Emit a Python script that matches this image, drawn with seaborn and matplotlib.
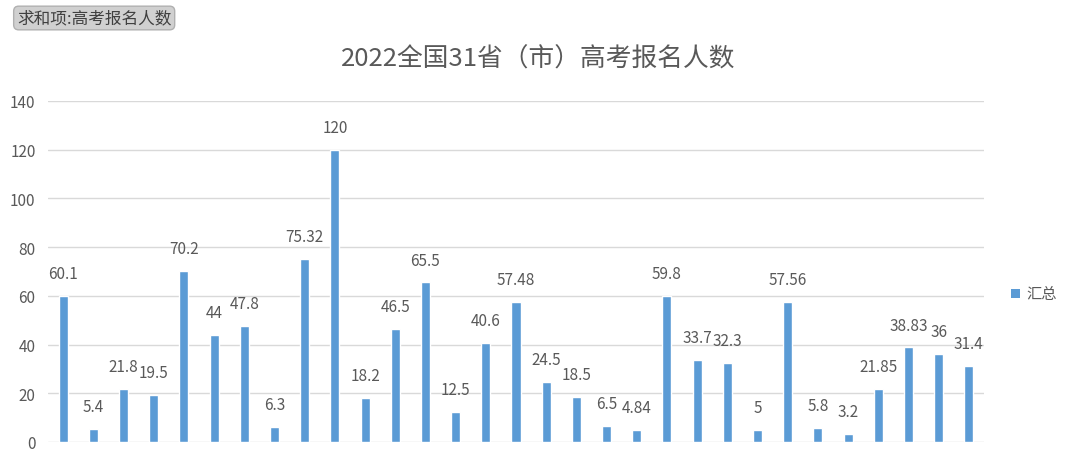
import matplotlib
matplotlib.use("Agg")
import matplotlib.pyplot as plt
import seaborn as sns
import pandas as pd

categories = [str(i) for i in range(1, 32)]
values = [60.1, 5.4, 21.8, 19.5, 70.2, 44, 47.8, 6.3, 75.32, 120, 18.2, 46.5, 65.5,
          12.5, 40.6, 57.48, 24.5, 18.5, 6.5, 4.84, 59.8, 33.7, 32.3, 5, 57.56,
          5.8, 3.2, 21.85, 38.83, 36, 31.4]
labels = ["60.1", "5.4", "21.8", "19.5", "70.2", "44", "47.8", "6.3", "75.32", "120",
          "18.2", "46.5", "65.5", "12.5", "40.6", "57.48", "24.5", "18.5", "6.5",
          "4.84", "59.8", "33.7", "32.3", "5", "57.56", "5.8", "3.2", "21.85",
          "38.83", "36", "31.4"]
yticks = [0, 20, 40, 60, 80, 100, 120, 140]
title = "2022全国31省（市）高考报名人数"
field_button = "求和项:高考报名人数"
legend_label = "汇总"

sns.set_theme(style="white")
plt.rcParams['font.family'] = ['Noto Sans CJK SC', 'DejaVu Sans']

W, H = 1073, 456
fig = plt.figure(figsize=(W / 100, H / 100), dpi=100)
ax = fig.add_axes([48 / W, 13 / H, (984 - 48) / W, (443 - 102) / H])

df = pd.DataFrame({"cat": categories, "val": values})
bar_color = "#5B9BD5"
text_color = "#595959"
sns.barplot(data=df, x="cat", y="val", color=bar_color, saturation=1, width=0.3, ax=ax)

ax.set_xlim(-0.5, len(categories) - 0.5)
ax.set_ylim(0, 140)
ax.set_yticks(yticks)
ax.set_yticklabels([str(t) for t in yticks], fontsize=11, color=text_color)
ax.tick_params(axis='y', length=0, pad=9)
ax.tick_params(axis='x', length=0, labelbottom=False)
ax.set_xlabel("")
ax.set_ylabel("")
ax.yaxis.grid(True, color="#D9D9D9", linewidth=1)
ax.set_axisbelow(True)
for s in ax.spines.values():
    s.set_visible(False)

for i, (v, lab) in enumerate(zip(values, labels)):
    ax.annotate(lab, xy=(i, v), xytext=(0, 10), textcoords="offset points",
                ha="center", va="bottom", fontsize=11, color=text_color)

fig.text(538 / W, 1 - 60 / H, title, ha="center", va="center", fontsize=18.5, color=text_color)

fig.text(17 / W, 1 - 19 / H, field_button, ha="left", va="center", fontsize=12, color="#404040",
         bbox=dict(boxstyle="round,pad=0.2,rounding_size=0.3", facecolor="#D0D0D0",
                   edgecolor="#B0B0B0", linewidth=1))

# legend
from matplotlib.patches import Rectangle
fig.patches.append(Rectangle((1011 / W, 1 - 299 / H), 9 / W, 9 / H, transform=fig.transFigure,
                             facecolor=bar_color, edgecolor="none"))
fig.text(1026 / W, 1 - 295 / H, legend_label, ha="left", va="center", fontsize=11, color=text_color)

fig.savefig("out.png", dpi=100)
